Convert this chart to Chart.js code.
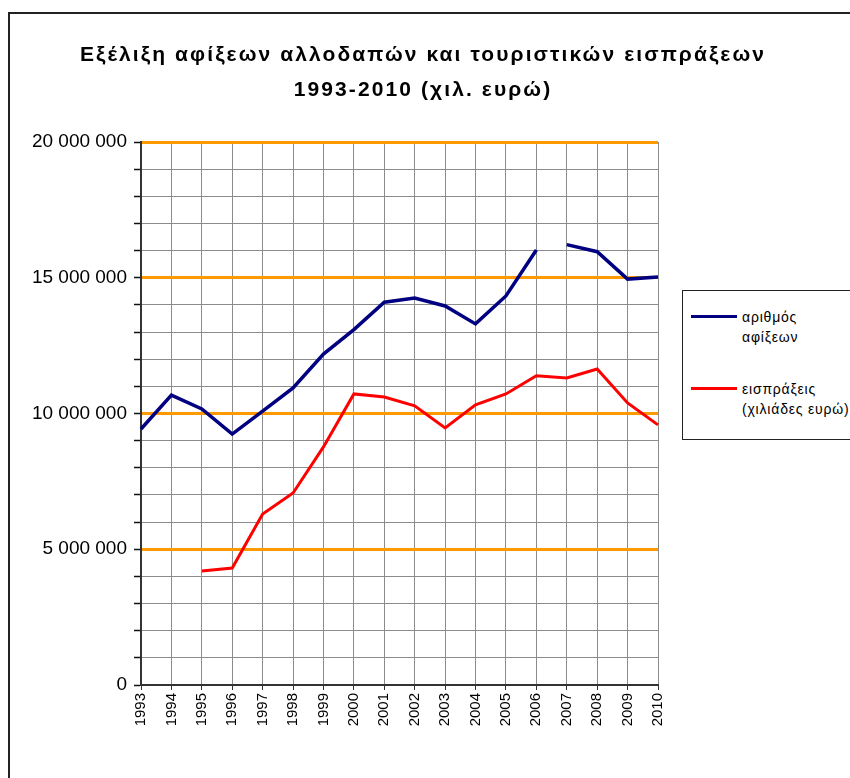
<!DOCTYPE html>
<html>
<head>
<meta charset="utf-8">
<script src="https://cdn.jsdelivr.net/npm/chart.js@4.4.1/dist/chart.umd.min.js"></script>
<style>
  body { margin: 0; background: #fff; font-family: "Liberation Sans", Arial, sans-serif; }
  #wrap { position: relative; width: 850px; height: 778px; overflow: hidden; }
  #frame { position: absolute; left: 8px; top: 12px; width: 1000px; height: 1000px; border-left: 2px solid #222; border-top: 2px solid #222; }
  #title { position: absolute; left: 0; width: 846px; top: 36px; text-align: center; font-weight: bold; font-size: 21px; letter-spacing: 2.1px; line-height: 35px; color: #000; }
  #legend { position: absolute; left: 682px; top: 290px; width: 170px; height: 148px; border: 1px solid #222; background: #fff; font-size: 14px; letter-spacing: 0.8px; color: #000; }
  .item { position: absolute; left: 8px; }
  .swatch { position: absolute; left: 0; width: 46px; height: 3px; }
  .lbl { position: absolute; left: 51px; white-space: nowrap; line-height: 20px; }
  canvas { position: absolute; left: 0; top: 0; }
</style>
</head>
<body>
<div id="wrap">
  <div id="frame"></div>
  <canvas id="chart" width="850" height="778"></canvas>
  <div id="title">Εξέλιξη αφίξεων αλλοδαπών και τουριστικών εισπράξεων<br>1993-2010 (χιλ. ευρώ)</div>
  <div id="legend"></div>
</div>
<script>
const years = ["1993", "1994", "1995", "1996", "1997", "1998", "1999", "2000", "2001",
  "2002", "2003", "2004", "2005", "2006", "2007", "2008", "2009", "2010"];

// αριθμός αφίξεων
const arrivals = [9430000, 10680000, 10170000, 9240000, 10090000, 10940000, 12190000, 13090000, 14100000,
  14250000, 13960000, 13300000, 14330000, 16020000, 16220000, 15960000, 14950000, 15030000];

// εισπράξεις (χιλιάδες ευρώ)
const receipts = [null, null, 4200000, 4310000, 6300000, 7070000, 8770000, 10720000, 10610000,
  10280000, 9470000, 10320000, 10720000, 11390000, 11310000, 11640000, 10390000, 9580000];

const seriesLabels = [["αριθμός", "αφίξεων"], ["εισπράξεις", "(χιλιάδες ευρώ)"]];
const yMax = 20000000;
const yStep = 1000000;
const yMajor = 5000000;

function fmt(v) {
  return String(v).replace(/\B(?=(\d{3})+(?!\d))/g, " ");
}

const ctx = document.getElementById("chart").getContext("2d");
const chart = new Chart(ctx, {
  type: "line",
  data: {
    labels: years,
    datasets: [
      {
        label: seriesLabels[0],
        data: arrivals,
        borderColor: "#000080",
        borderWidth: 3.5,
        pointRadius: 0,
        tension: 0,
        // no line between 2006 and 2007 in the original
        segment: {
          borderColor: (c) => (c.p0DataIndex === 13 ? "rgba(0,0,0,0)" : undefined)
        }
      },
      {
        label: seriesLabels[1],
        data: receipts,
        borderColor: "#ff0000",
        borderWidth: 3,
        pointRadius: 0,
        tension: 0
      }
    ]
  },
  options: {
    responsive: false,
    animation: false,
    layout: { padding: { left: 0, right: 192, top: 142, bottom: 0 } },
    plugins: {
      legend: { display: false },
      tooltip: { enabled: false }
    },
    scales: {
      x: {
        offset: false,
        afterFit: (s) => { s.height = 93; },
        border: { color: "#333", width: 2 },
        grid: { color: "#8c8c8c", lineWidth: 1, tickLength: 5, tickColor: "#333" },
        ticks: {
          color: "#000",
          font: { family: "Liberation Sans", size: 15 },
          minRotation: 90,
          maxRotation: 90,
          autoSkip: false,
          padding: 3
        }
      },
      y: {
        min: 0,
        max: yMax,
        afterFit: (s) => { s.width = 141; },
        border: { color: "#333", width: 2 },
        grid: {
          color: (c) => (c.tick.value % yMajor === 0 && c.tick.value > 0 ? "#ff9900" : "#8c8c8c"),
          lineWidth: (c) => (c.tick.value % yMajor === 0 && c.tick.value > 0 ? 3 : 1),
          tickColor: "#111",
          tickWidth: 1.5,
          tickLength: 7
        },
        ticks: {
          stepSize: yStep,
          autoSkip: false,
          color: "#000",
          padding: 7,
          font: { family: "Liberation Sans", size: 19 },
          callback: (v) => (v % yMajor === 0 ? fmt(v) : "")
        }
      }
    }
  }
});

// legend box built from the datasets
const legend = document.getElementById("legend");
const rowTops = [16, 88];
chart.data.datasets.forEach((ds, i) => {
  const item = document.createElement("div");
  item.className = "item";
  item.style.top = rowTops[i] + "px";
  const sw = document.createElement("div");
  sw.className = "swatch";
  sw.style.background = ds.borderColor;
  sw.style.top = "8px";
  const lbl = document.createElement("div");
  lbl.className = "lbl";
  lbl.innerHTML = ds.label.join("<br>");
  item.appendChild(sw);
  item.appendChild(lbl);
  legend.appendChild(item);
});
</script>
</body>
</html>
